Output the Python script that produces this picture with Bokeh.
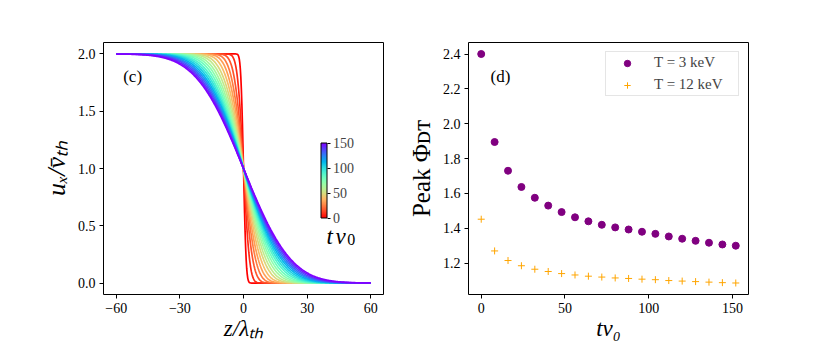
import math
import numpy as np
from bokeh.plotting import figure
from bokeh.layouts import row
from bokeh.models import (ColorBar, LinearColorMapper, FixedTicker, Label, Legend, LegendItem,
                          PrintfTickFormatter)
from bokeh.embed import file_html
from bokeh.resources import INLINE

# ---------------- data ----------------
times = [0, 8, 16, 24, 32, 40, 48, 56, 64, 72, 80, 88, 96, 104, 112, 120, 128, 136, 144, 152]
# half-widths (in lambda_th) of the velocity-shear profiles
profile_widths = [1.4, 3.2, 4.9, 6.4, 7.8, 9.2, 10.6, 11.9, 13.2, 14.4,
                  15.6, 16.8, 17.9, 19.0, 20.1, 21.1, 22.1, 23.1, 24.1, 25.0]
peak_3kev = [2.40, 1.895, 1.73, 1.637, 1.575, 1.53, 1.493, 1.463, 1.44, 1.42,
             1.405, 1.393, 1.38, 1.368, 1.353, 1.34, 1.328, 1.317, 1.307, 1.30]
peak_12kev = [1.452, 1.27, 1.215, 1.185, 1.165, 1.152, 1.14, 1.132, 1.125, 1.12,
              1.115, 1.112, 1.108, 1.105, 1.10, 1.097, 1.094, 1.091, 1.088, 1.086]
z_grid = np.linspace(-60, 60, 481)
left_xticks = [-60, -30, 0, 30, 60]
left_yticks = [0.0, 0.5, 1.0, 1.5, 2.0]
right_xticks = [0, 50, 100, 150]
right_yticks = [1.2, 1.4, 1.6, 1.8, 2.0, 2.2, 2.4]
cbar_ticks = [0, 50, 100, 150]
cbar_max = 150

FONT = "Liberation Serif"


def rainbow_r(x):
    x = 1.0 - min(max(x, 0.0), 1.0)
    r = min(max(abs(2 * x - 0.5), 0), 1)
    g = min(max(math.sin(math.pi * x), 0), 1)
    b = min(max(math.cos(math.pi * x / 2), 0), 1)
    return "#%02x%02x%02x" % (int(round(r * 255)), int(round(g * 255)), int(round(b * 255)))


def style(p):
    p.grid.visible = False
    p.outline_line_color = "black"
    p.outline_line_width = 1
    p.outline_line_alpha = 1
    for ax in (p.xaxis[0], p.yaxis[0]):
        ax.axis_line_color = None
        ax.major_tick_in = 0
        ax.major_tick_out = 4
        ax.minor_tick_line_color = None
        ax.major_tick_line_color = "black"
        ax.major_label_text_font = FONT
        ax.major_label_text_font_size = "14px"
        ax.major_label_text_color = "black"
        ax.major_label_standoff = 4
        ax.axis_label_text_font = FONT
        ax.axis_label_text_font_size = "23px"
        ax.axis_label_text_color = "black"
        ax.axis_label_text_font_style = "italic"
        ax.axis_label_standoff = 5


def lab(p, text, x, y, size, style_="normal", angle=0.0):
    p.add_layout(Label(x=x, y=y, x_units="screen", y_units="screen", text=text,
                       text_font=FONT, text_font_size=size, text_font_style=style_,
                       text_color="black", angle=angle, text_align="left",
                       text_baseline="alphabetic"))


# ---------------- left panel ----------------
p1 = figure(frame_width=280, frame_height=252, min_border_left=103, min_border_right=15,
            min_border_top=42, min_border_bottom=44, x_range=(-66, 66), y_range=(-0.1, 2.1),
            output_backend="svg", toolbar_location=None)
style(p1)
p1.xaxis.ticker = FixedTicker(ticks=left_xticks)
p1.xaxis.major_label_overrides = {-60: "\u221260", -30: "\u221230", 0: "0", 30: "30", 60: "60"}
p1.yaxis.ticker = FixedTicker(ticks=left_yticks)
p1.yaxis.formatter = PrintfTickFormatter(format="%.1f")
p1.yaxis.axis_label = "u\u2093/v\u0304\u209c\u2095"
p1.yaxis.axis_label_text_font_size = "26px"
p1.yaxis.axis_label_standoff = 4
p1.xaxis.axis_label = "z/\u03bb\u209c\u2095"
p1.xaxis.axis_label_standoff = 0

for t, w in zip(times, profile_widths):
    u = [1.0 - math.erf(z / w) for z in z_grid]
    p1.line(z_grid, u, line_color=rainbow_r(t / cbar_max), line_width=1.7)

palette = [rainbow_r(i / 255) for i in range(256)]
mapper = LinearColorMapper(palette=palette, low=0, high=cbar_max)
cb = ColorBar(color_mapper=mapper, location=(217.5, 76.5), width=6, height=75,
              padding=0, margin=0, ticker=FixedTicker(ticks=cbar_ticks),
              major_label_text_font=FONT, major_label_text_font_size="14px",
              major_tick_in=0, major_tick_out=3, major_tick_line_color="black",
              bar_line_color="black", border_line_color=None, background_fill_alpha=0,
              label_standoff=3, minor_tick_line_color=None)
p1.add_layout(cb, "center")

# colour-bar title  t nu_0
lab(p1, "t", 223.0, 58.0, "23px", "italic")
lab(p1, "\u03bd", 232.0, 58.0, "23px", "italic")
lab(p1, "0", 243.7, 55.0, "16px", "normal")

lab(p1, "(c)", 19.7, 218.5, "17px")

# ---------------- right panel ----------------
p2 = figure(frame_width=280, frame_height=252, min_border_left=70, min_border_right=66,
            min_border_top=42, min_border_bottom=44, x_range=(-7.6, 159.6), y_range=(1.02, 2.466),
            output_backend="svg", toolbar_location=None)
style(p2)
p2.xaxis.ticker = FixedTicker(ticks=right_xticks)
p2.yaxis.ticker = FixedTicker(ticks=right_yticks)
p2.yaxis.formatter = PrintfTickFormatter(format="%.1f")
p2.xaxis.axis_label = "t\u03bd\u2080"
p2.xaxis.axis_label_standoff = 0
p2.yaxis.axis_label = "Peak \u03a6\u1d05\u1d1b"
p2.yaxis.axis_label_text_font_style = "normal"
p2.yaxis.axis_label_text_font_size = "25px"
p2.yaxis.axis_label_standoff = 5

r1 = p2.scatter(times, peak_3kev, marker="circle", size=7, fill_color="purple", line_color="purple")
r2 = p2.scatter(times, peak_12kev, marker="cross", size=7, line_color="orange", line_width=1)

leg = Legend(items=[LegendItem(label="T = 3 keV", renderers=[r1]),
                    LegendItem(label="T = 12 keV", renderers=[r2])],
             location="top_right", margin=9, padding=2, spacing=5,
             glyph_width=38, glyph_height=16, label_height=16, label_standoff=8,
             label_width=82,
             label_text_font=FONT, label_text_font_size="15px",
             border_line_color="#cccccc", border_line_width=1,
             background_fill_color="white", background_fill_alpha=0.8)
p2.add_layout(leg, "center")

lab(p2, "(d)", 22.0, 218.5, "17px")

layout = row(p1, p2)
open("out.html", "w").write(file_html(layout, INLINE))
